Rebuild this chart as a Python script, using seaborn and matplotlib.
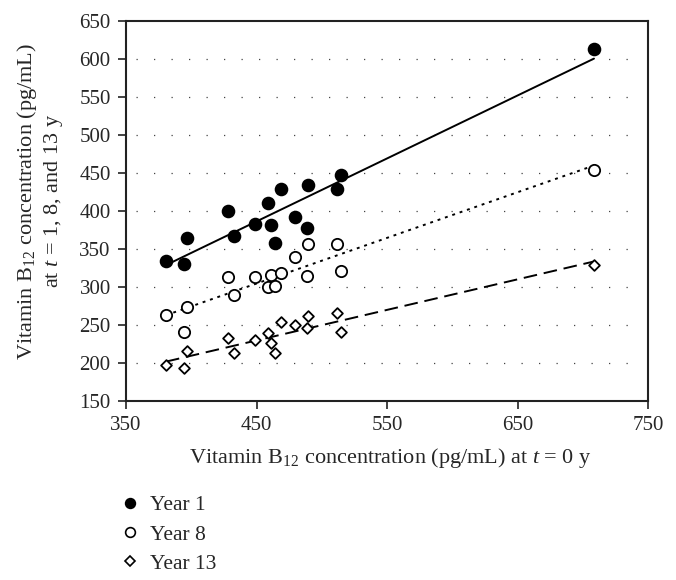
import numpy as np
import pandas as pd
import matplotlib
matplotlib.use("Agg")
import matplotlib.pyplot as plt
import seaborn as sns
from matplotlib.lines import Line2D

# ---- data ----
baseline = [380.6, 394.5, 397.1, 428.0, 433.0, 449.2, 458.9, 461.0,
            464.1, 468.8, 479.8, 488.7, 489.8, 511.8, 514.9, 708.6]
year1 = [334.6, 330.7, 364.0, 400.4, 367.5, 383.3, 410.9, 382.0,
         357.5, 428.5, 392.1, 377.6, 434.6, 429.4, 446.9, 613.2]
year8 = [262.7, 241.2, 273.7, 313.6, 289.5, 312.7, 300.0, 315.8,
         300.9, 318.4, 339.9, 314.5, 356.6, 356.1, 321.5, 453.5]
year13 = [197.4, 193.4, 216.2, 232.4, 213.6, 230.3, 239.5, 225.9,
          212.7, 253.9, 249.6, 245.6, 261.8, 265.3, 240.3, 329.4]
series_names = ["Year 1", "Year 8", "Year 13"]
x_ticks = [350, 450, 550, 650, 750]
y_ticks = [150, 200, 250, 300, 350, 400, 450, 500, 550, 600, 650]
grid_levels = [200, 250, 300, 350, 400, 450, 500, 550, 600]

df = pd.DataFrame({
    "x": baseline * 3,
    "y": year1 + year8 + year13,
    "series": sum([[n] * len(baseline) for n in series_names], []),
})

sns.set_style("ticks")
plt.rcParams["font.family"] = ["Liberation Serif", "DejaVu Serif"]
plt.rcParams["mathtext.fontset"] = "custom"
plt.rcParams["mathtext.rm"] = "Liberation Serif"
plt.rcParams["mathtext.it"] = "Liberation Serif:italic"

fig = plt.figure(figsize=(6.76, 5.80), dpi=100)
ax = fig.add_axes([0.1864, 0.3086, 0.7722, 0.6552])

for lvl in grid_levels:
    ax.axhline(lvl, xmin=0.02, xmax=0.985, color="#444444", lw=0.9,
               ls=(0, (1, 13)), zorder=0)

styles = {
    "Year 1": dict(marker="o", fc="black", ec="black", s=72, ls="-"),
    "Year 8": dict(marker="o", fc="white", ec="black", s=66, ls=(0, (1.5, 2.5))),
    "Year 13": dict(marker="D", fc="white", ec="black", s=30, ls=(0, (7, 3.5))),
}

for name in series_names:
    sub = df[df["series"] == name]
    st = styles[name]
    sns.regplot(data=sub, x="x", y="y", ax=ax, scatter=False, ci=None,
                line_kws=dict(color="black", lw=1.4, ls=st["ls"], zorder=2))
    sns.scatterplot(data=sub, x="x", y="y", ax=ax, marker=st["marker"],
                    color=st["fc"], edgecolor=st["ec"], linewidth=1.3,
                    s=st["s"], zorder=3, legend=False)

ax.set_xlim(350, 750)
ax.set_ylim(150, 650)
ax.set_xticks(x_ticks)
ax.set_yticks(y_ticks)
ax.tick_params(axis="both", labelsize=15, direction="out", length=6,
               width=1.2, color="#222222", pad=5)
for sp in ax.spines.values():
    sp.set_visible(True)
    sp.set_linewidth(1.5)
    sp.set_color("#222222")

ax.set_xlabel("Vitamin B$_{12}$ concentration (pg/mL) at $t$ = 0 y",
              fontsize=16)
ax.xaxis.set_label_coords(0.506, -0.150)
ax.xaxis.label.set_va("center")
ax.set_ylabel("Vitamin B$_{12}$ concentration (pg/mL)\nat $t$ = 1, 8, and 13 y",
              fontsize=16, linespacing=1.15, va="center")
ax.yaxis.set_label_coords(-0.165, 0.526)

handles = []
for name in series_names:
    st = styles[name]
    handles.append(Line2D([], [], ls="none", marker=st["marker"],
                          mfc=st["fc"], mec="black", mew=1.2,
                          ms=7 if st["marker"] == "o" else 5.5))
fig.legend(handles, series_names, loc="upper left",
           bbox_to_anchor=(0.180, 0.146), frameon=False, fontsize=15.5,
           handlelength=0.8, handletextpad=0.53, labelspacing=0.42,
           borderaxespad=0, borderpad=0)

fig.savefig("out.png", dpi=100)
